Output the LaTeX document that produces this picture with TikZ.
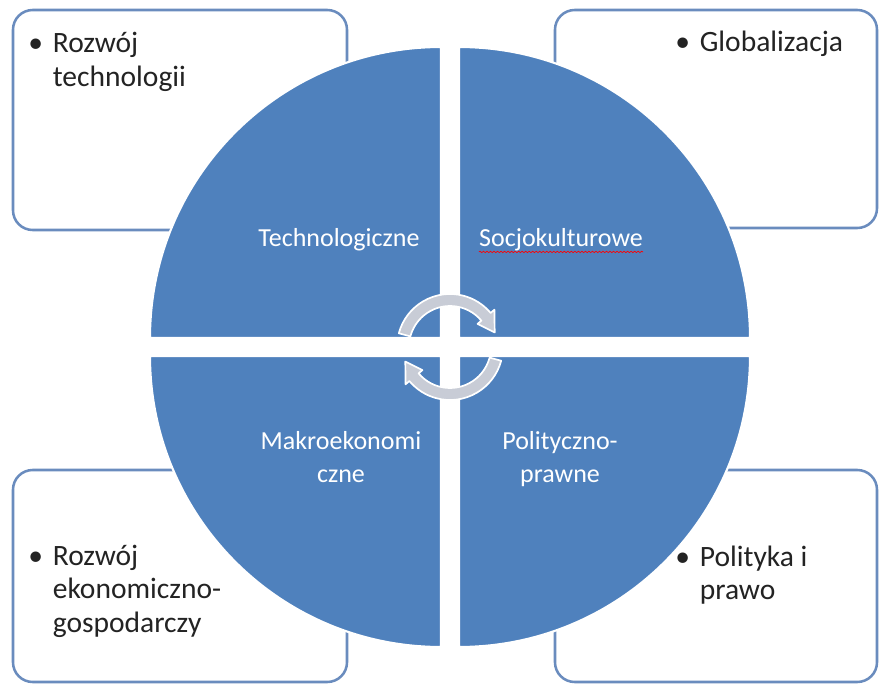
\documentclass[tikz,border=0pt]{standalone}
\usepackage{fontspec}
\setmainfont{Carlito}
\usetikzlibrary{positioning,decorations.pathmorphing}

\definecolor{quadblue}{RGB}{79,129,189}
\definecolor{boxline}{RGB}{106,140,190}
\definecolor{arrowgray}{RGB}{200,204,214}
\definecolor{textgray}{RGB}{35,35,35}

% bullet item with hanging lines
\newcommand{\punkt}[1]{\begin{tabular}[t]{@{}l@{\hspace{7pt}}l@{}}\textbullet & \begin{tabular}[t]{@{}l@{}}#1\end{tabular}\end{tabular}}

\begin{document}
\begin{tikzpicture}[x=0.025cm, y=0.025cm,
        factorbox/.style={rectangle, draw=boxline, line width=1.8pt, rounded corners=14pt, fill=white, minimum width=334*0.025cm, minimum height=220*0.025cm, inner sep=0pt},
        boxtext/.style={anchor=base west, inner sep=0pt, text=textgray, font=\fontsize{21}{24}\selectfont},
        quadrant/.style={fill=quadblue, draw=white, line width=1.5pt},
        quadlabel/.style={anchor=base, inner sep=0pt, text=white, align=center, font=\fontsize{18.5}{23}\selectfont},
        cyclearrow/.style={fill=arrowgray, draw=white, line width=1.2pt, line join=round}]

        \useasboundingbox (-450,-337) rectangle (430,347);

        % Boxes
        \node[factorbox] (techbox) at (-270,227) {};
        \node[factorbox, minimum width=322*0.025cm, minimum height=218*0.025cm] (sociobox) at (266,228) {};
        \node[factorbox, minimum height=212*0.025cm] (makrobox) at (-270,-229) {};
        \node[factorbox, minimum width=322*0.025cm, minimum height=212*0.025cm] (politbox) at (266,-229) {};

        % Box texts
        \node[boxtext] (techtext) at (-422,294) {\punkt{Rozwój\\technologii}};
        \node[boxtext] (sociotext) at (225,295) {\punkt{Globalizacja}};
        \node[boxtext] (makrotext) at (-422,-218) {\punkt{Rozwój\\ekonomiczno-\\gospodarczy}};
        \node[boxtext] (polittext) at (225,-219) {\punkt{Polityka i\\prawo}};

        % Quadrants
        \filldraw[quadrant] (-9,9) -- (-300,9) arc[start angle=180, end angle=90, radius=291] -- cycle;
        \filldraw[quadrant] (9,9) -- (9,300) arc[start angle=90, end angle=0, radius=291] -- cycle;
        \filldraw[quadrant] (-9,-9) -- (-9,-300) arc[start angle=270, end angle=180, radius=291] -- cycle;
        \filldraw[quadrant] (9,-9) -- (300,-9) arc[start angle=0, end angle=-90, radius=291] -- cycle;

        % Quadrant labels
        \node[quadlabel] (technologiczne) at (-111,100) {Technologiczne};
        \node[quadlabel] (socjokulturowe) at (111,100) {Socjokulturowe};
        \node[quadlabel] (makroekonomiczne) at (-109,-135) {Makroekonomi\\czne};
        \node[quadlabel] (politycznoprawne) at (110,-135) {Polityczno-\\prawne};

        \draw[red, line width=0.5pt, decorate, decoration={snake, amplitude=0.5pt, segment length=2.5pt}]
            ([yshift=-3.5pt]socjokulturowe.base west) -- ([yshift=-3.5pt]socjokulturowe.base east);

        % Cycle arrows
        \filldraw[cyclearrow] (165:53) arc[start angle=165, end angle=40, radius=53] -- (40:58) -- (18:47)
            -- (40:36) -- (40:41) arc[start angle=40, end angle=165, radius=41] -- cycle;
        \filldraw[cyclearrow, rotate=180] (165:53) arc[start angle=165, end angle=40, radius=53] -- (40:58) -- (18:47)
            -- (40:36) -- (40:41) arc[start angle=40, end angle=165, radius=41] -- cycle;

    \end{tikzpicture}
\end{document}
